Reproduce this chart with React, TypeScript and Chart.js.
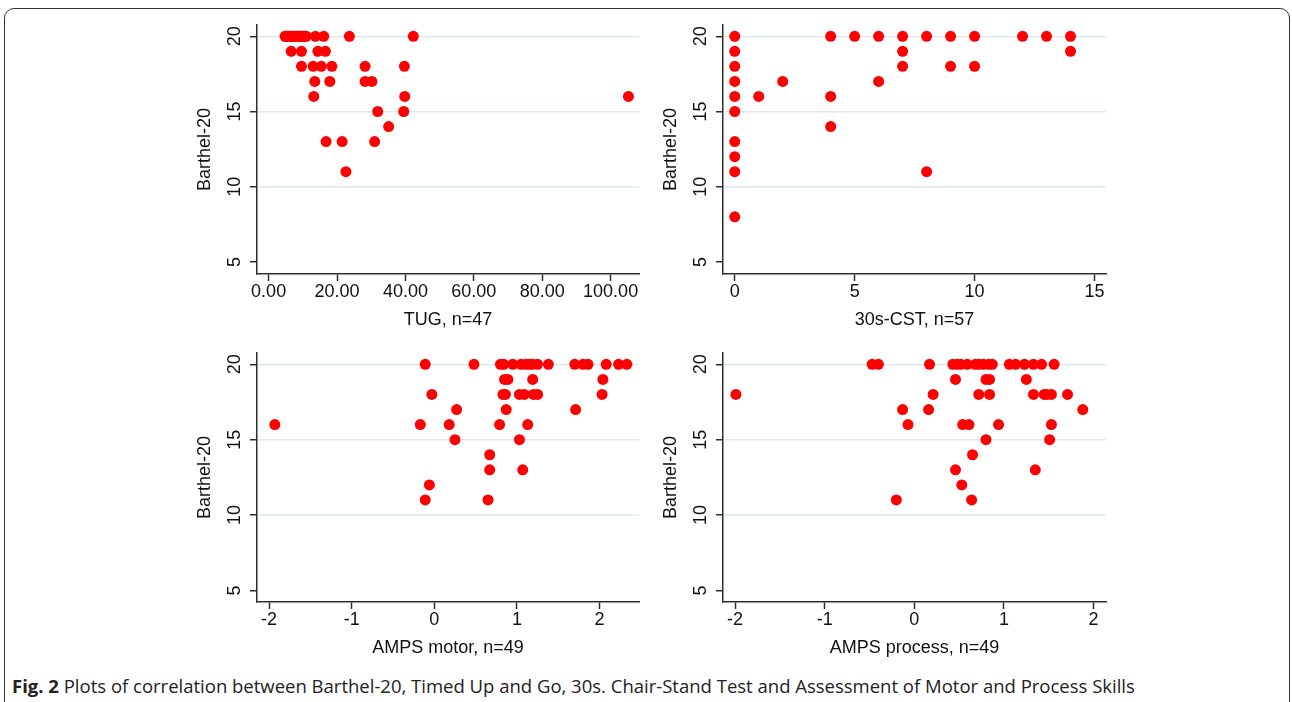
import React, { useEffect, useRef } from 'react';
import { Chart, registerables } from 'chart.js';

Chart.register(...registerables);

// ---------- shared axis data ----------
const Y_TICKS = [5, 10, 15, 20];
const Y_GRID_VALUES = [10, 15, 20];
const Y_TITLE = 'Barthel-20';
const CAPTION_LABEL = 'Fig. 2';
const CAPTION_TEXT =
  'Plots of correlation between Barthel-20, Timed Up and Go, 30s. Chair-Stand Test and Assessment of Motor and Process Skills';

// ---------- TUG ----------
const TUG_TICKS = [0, 20, 40, 60, 80, 100];
const TUG_TITLE = 'TUG, n=47';
const tugX = [
  4.8, 5.0, 5.3, 5.7, 6.2, 6.6, 7.0, 7.4, 7.8, 8.2, 8.5, 8.9, 9.1, 9.3, 9.6, 10.0, 10.3, 10.7, 11.0, 13.7, 16.1, 23.6, 42.3,
  6.6, 9.6, 14.4, 16.6,
  9.6, 13.0, 15.4, 18.5, 28.2, 39.7,
  13.5, 17.9, 28.2, 30.2,
  13.2, 39.8, 105.2,
  31.9, 39.5,
  35.1,
  16.8, 21.5, 31.0,
  22.6,
];
const tugY = [
  20, 20, 20, 20, 20, 20, 20, 20, 20, 20, 20, 20, 20, 20, 20, 20, 20, 20, 20, 20, 20, 20, 20,
  19, 19, 19, 19,
  18, 18, 18, 18, 18, 18,
  17, 17, 17, 17,
  16, 16, 16,
  15, 15,
  14,
  13, 13, 13,
  11,
];

// ---------- 30s-CST ----------
const CST_TICKS = [0, 5, 10, 15];
const CST_TITLE = '30s-CST, n=57';
const cstX = [
  0, 4, 5, 6, 7, 8, 9, 10, 12, 13, 14,
  0, 7, 14,
  0, 7, 9, 10,
  0, 2, 6,
  0, 1, 4,
  0,
  4,
  0,
  0,
  0, 8,
  0,
];
const cstY = [
  20, 20, 20, 20, 20, 20, 20, 20, 20, 20, 20,
  19, 19, 19,
  18, 18, 18, 18,
  17, 17, 17,
  16, 16, 16,
  15,
  14,
  13,
  12,
  11, 11,
  8,
];

// ---------- AMPS motor ----------
const AMPS_TICKS = [-2, -1, 0, 1, 2];
const MOTOR_TITLE = 'AMPS motor, n=49';
const motorX = [
  -0.11, 0.48, 0.80, 0.84, 0.95, 1.05, 1.11, 1.15, 1.19, 1.25, 1.38, 1.70, 1.80, 1.86, 2.08, 2.23, 2.33,
  0.85, 0.89, 1.19, 2.04,
  -0.03, 0.83, 0.86, 1.03, 1.09, 1.20, 1.25, 2.03,
  0.27, 0.87, 1.71,
  -1.93, -0.17, 0.18, 0.79, 1.13,
  0.25, 1.03,
  0.67,
  0.67, 1.07,
  -0.06,
  -0.11, 0.65,
];
const motorY = [
  20, 20, 20, 20, 20, 20, 20, 20, 20, 20, 20, 20, 20, 20, 20, 20, 20,
  19, 19, 19, 19,
  18, 18, 18, 18, 18, 18, 18, 18,
  17, 17, 17,
  16, 16, 16, 16, 16,
  15, 15,
  14,
  13, 13,
  12,
  11, 11,
];

// ---------- AMPS process ----------
const PROCESS_TITLE = 'AMPS process, n=49';
const processX = [
  -0.47, -0.40, 0.17, 0.43, 0.48, 0.52, 0.59, 0.68, 0.72, 0.77, 0.83, 0.87, 1.06, 1.13, 1.23, 1.33, 1.42, 1.56,
  0.46, 0.80, 0.84, 1.25,
  -1.99, 0.21, 0.72, 0.84, 1.33, 1.45, 1.48, 1.53, 1.71,
  -0.13, 0.16, 1.88,
  -0.07, 0.54, 0.61, 0.94, 1.53,
  0.80, 1.51,
  0.65,
  0.46, 1.35,
  0.53,
  -0.20, 0.64,
];
const processY = [
  20, 20, 20, 20, 20, 20, 20, 20, 20, 20, 20, 20, 20, 20, 20, 20, 20, 20,
  19, 19, 19, 19,
  18, 18, 18, 18, 18, 18, 18, 18, 18,
  17, 17, 17,
  16, 16, 16, 16, 16,
  15, 15,
  14,
  13, 13,
  12,
  11, 11,
];

// ---------- panel layout (styling, not data) ----------
type Panel = {
  id: string;
  xs: number[];
  ys: number[];
  xTicks: number[];
  xMin: number;
  xMax: number;
  yMin: number;
  yMax: number;
  xTitle: string;
  decimals: number;
  plot: { left: number; right: number; top: number; bottom: number };
};

const PANELS: Panel[] = [
  {
    id: 'tug', xs: tugX, ys: tugY, xTicks: TUG_TICKS, xMin: -3.4, xMax: 108.3, yMin: 4.2, yMax: 20.75,
    xTitle: TUG_TITLE, decimals: 2, plot: { left: 257, right: 639, top: 25, bottom: 274 },
  },
  {
    id: 'cst', xs: cstX, ys: cstY, xTicks: CST_TICKS, xMin: -0.49, xMax: 15.48, yMin: 4.2, yMax: 20.75,
    xTitle: CST_TITLE, decimals: 0, plot: { left: 723, right: 1106, top: 25, bottom: 274 },
  },
  {
    id: 'motor', xs: motorX, ys: motorY, xTicks: AMPS_TICKS, xMin: -2.146, xMax: 2.477, yMin: 4.23, yMax: 20.75,
    xTitle: MOTOR_TITLE, decimals: 0, plot: { left: 257, right: 639, top: 353, bottom: 602 },
  },
  {
    id: 'process', xs: processX, ys: processY, xTicks: AMPS_TICKS, xMin: -2.134, xMax: 2.139, yMin: 4.23, yMax: 20.75,
    xTitle: PROCESS_TITLE, decimals: 0, plot: { left: 723, right: 1106, top: 353, bottom: 602 },
  },
];

const PAD_LEFT = 72;
const PAD_TOP = 12;
const PAD_RIGHT = 12;
const PAD_BOTTOM = 70;
const FONT = '"Liberation Sans", Arial, sans-serif';
const AXIS_COLOR = '#2e2e2e';
const GRID_COLOR = '#e0eaee';
const POINT_COLOR = '#ff0000';

function ScatterPanel({ panel }: { panel: Panel }) {
  const ref = useRef<HTMLCanvasElement | null>(null);
  const { plot } = panel;
  const width = plot.right - plot.left + PAD_LEFT + PAD_RIGHT;
  const height = plot.bottom - plot.top + PAD_TOP + PAD_BOTTOM;

  useEffect(() => {
    if (!ref.current) return;
    const textPlugin = {
      id: 'stataText' + panel.id,
      afterDraw(chart: any) {
        const { ctx, chartArea, scales } = chart;
        const xs = scales.x;
        const ys = scales.y;
        ctx.save();
        ctx.fillStyle = '#111111';
        ctx.font = `18px ${FONT}`;
        ctx.textAlign = 'center';
        ctx.textBaseline = 'middle';
        xs.ticks.forEach((t: any) => {
          ctx.fillText(t.value.toFixed(panel.decimals), xs.getPixelForValue(t.value), chartArea.bottom + 18);
        });
        ys.ticks.forEach((t: any) => {
          ctx.save();
          ctx.translate(chartArea.left - 22, ys.getPixelForValue(t.value));
          ctx.rotate(-Math.PI / 2);
          ctx.fillText(String(t.value), 0, 0);
          ctx.restore();
        });
        ctx.fillText(panel.xTitle, (chartArea.left + chartArea.right) / 2, chartArea.bottom + 46);
        ctx.save();
        ctx.translate(chartArea.left - 52, (chartArea.top + chartArea.bottom) / 2);
        ctx.rotate(-Math.PI / 2);
        ctx.fillText(Y_TITLE, 0, 0);
        ctx.restore();
        ctx.restore();
      },
    };

    const chart = new Chart(ref.current, {
      type: 'scatter',
      data: {
        datasets: [
          {
            data: panel.xs.map((x, i) => ({ x, y: panel.ys[i] })),
            backgroundColor: POINT_COLOR,
            borderColor: POINT_COLOR,
            borderWidth: 0,
            pointRadius: 5.5,
            pointHoverRadius: 5.5,
          },
        ],
      },
      options: {
        responsive: false,
        animation: false,
        events: [],
        layout: { padding: { left: 0, top: PAD_TOP, right: PAD_RIGHT, bottom: 0 } },
        plugins: { legend: { display: false }, tooltip: { enabled: false } },
        scales: {
          x: {
            type: 'linear',
            min: panel.xMin,
            max: panel.xMax,
            afterBuildTicks: (s: any) => {
              s.ticks = panel.xTicks.map((v) => ({ value: v }));
            },
            afterFit: (s: any) => {
              s.height = PAD_BOTTOM;
            },
            ticks: { display: false },
            grid: {
              display: true,
              drawOnChartArea: false,
              drawTicks: true,
              tickLength: 7,
              tickColor: AXIS_COLOR,
              tickWidth: 1.5,
            },
            border: { display: true, color: AXIS_COLOR, width: 1.5 },
          },
          y: {
            type: 'linear',
            min: panel.yMin,
            max: panel.yMax,
            afterBuildTicks: (s: any) => {
              s.ticks = Y_TICKS.map((v) => ({ value: v }));
            },
            afterFit: (s: any) => {
              s.width = PAD_LEFT;
            },
            ticks: { display: false },
            grid: {
              display: true,
              drawOnChartArea: true,
              drawTicks: true,
              tickLength: 7,
              tickColor: AXIS_COLOR,
              tickWidth: 1.5,
              lineWidth: 1.5,
              color: (c: any) => (c.tick && Y_GRID_VALUES.includes(c.tick.value) ? GRID_COLOR : 'rgba(0,0,0,0)'),
            },
            border: { display: true, color: AXIS_COLOR, width: 1.5 },
          },
        },
      },
      plugins: [textPlugin],
    });
    return () => chart.destroy();
  }, [panel]);

  return (
    <canvas
      ref={ref}
      width={width}
      height={height}
      style={{
        position: 'absolute',
        left: plot.left - PAD_LEFT,
        top: plot.top - PAD_TOP,
        width,
        height,
      }}
    />
  );
}

export default function App() {
  return (
    <div style={{ position: 'absolute', left: 0, top: 0, width: 1292, height: 702, overflow: 'hidden', background: '#fff' }}>
      <div
        style={{
          position: 'absolute',
          left: 4,
          top: 8,
          width: 1286,
          height: 720,
          border: '1.5px solid #333',
          borderRadius: 10,
          boxSizing: 'border-box',
        }}
      />
      {PANELS.map((p) => (
        <ScatterPanel key={p.id} panel={p} />
      ))}
      <div
        style={{
          position: 'absolute',
          left: 12,
          top: 673,
          fontFamily: '"Open Sans", sans-serif',
          fontSize: 18.5,
          lineHeight: '26px',
          whiteSpace: 'nowrap',
          color: '#222',
        }}
      >
        <b>{CAPTION_LABEL}</b> {CAPTION_TEXT}
      </div>
    </div>
  );
}
